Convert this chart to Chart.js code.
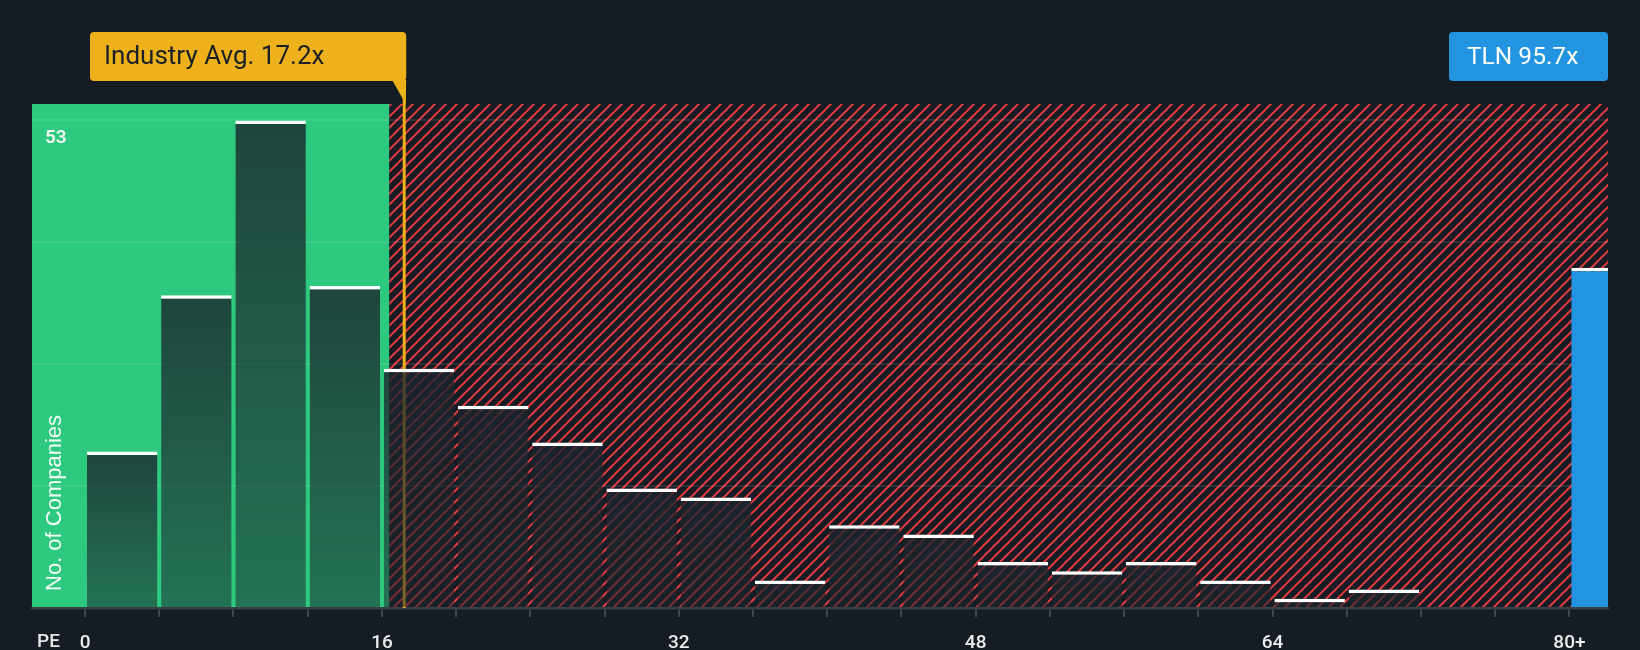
<!DOCTYPE html>
<html>
<head>
<meta charset="utf-8">
<script src="https://cdn.jsdelivr.net/npm/chart.js@4"></script>
<style>
  html, body { margin: 0; padding: 0; background: #161c24; }
  #wrap { width: 1640px; height: 650px; position: relative; }
</style>
</head>
<body>
<div id="wrap"><canvas id="peChart"></canvas></div>
<script>
// PE buckets (start of each 4x bucket) and number of peers in each
const binWidth = 4;
const binStarts = [0, 4, 8, 12, 16, 20, 24, 28, 32, 36, 40, 44, 48, 52, 56, 60, 64, 68, 72, 76];
const peerCounts = [17, 34, 53, 35, 26, 22, 18, 13, 12, 3, 9, 8, 5, 4, 5, 3, 1, 2, 0, 0];

// the company itself, shown in the 80+ bucket
const companyName = 'TLN';
const companyPE = 95.7;
const companyBin = 80;
const companyCount = 37;

const industryAvg = 17.2;
const fairLimit = 16.4; // green zone ends here

const xTicks = [0, 4, 8, 12, 16, 20, 24, 28, 32, 36, 40, 44, 48, 52, 56, 60, 64, 68, 72, 76, 80];
const xTickLabels = { 0: '0', 16: '16', 32: '32', 48: '48', 64: '64', 80: '80+' };
const yTicks = [0, 13.25, 26.5, 39.75, 53];
const yTickLabels = { 53: '53' };

Chart.defaults.font.family = "Roboto, 'Open Sans', sans-serif";

function makeHatch(ctx) {
  const s = 11;
  const c = document.createElement('canvas');
  c.width = s; c.height = s;
  const g = c.getContext('2d');
  g.fillStyle = '#161c24';
  g.fillRect(0, 0, s, s);
  g.strokeStyle = '#e03c40';
  g.lineWidth = 2;
  g.beginPath();
  g.moveTo(-1, s + 1); g.lineTo(s + 1, -1);
  g.moveTo(-s / 2 - 1, s / 2 + 1); g.lineTo(s / 2 + 1, -s / 2 - 1);
  g.moveTo(s / 2 - 1, s * 1.5 + 1); g.lineTo(s * 1.5 + 1, s / 2 - 1);
  g.stroke();
  return ctx.createPattern(c, 'repeat');
}

function barFill(context) {
  const chart = context.chart;
  const a = chart.chartArea;
  if (!a || !context.parsed) return 'rgba(27,36,45,0.7)';
  const top = chart.scales.y.getPixelForValue(context.parsed.y);
  if (a.bottom - top < 1) return 'rgba(27,36,45,0.7)';
  const g = chart.ctx.createLinearGradient(0, top, 0, a.bottom);
  g.addColorStop(0, 'rgba(27,36,45,0.8)');
  g.addColorStop(1, 'rgba(27,36,45,0.52)');
  return g;
}

function box(ctx, x, y, w, h, r) {
  ctx.beginPath();
  ctx.moveTo(x + r, y);
  ctx.lineTo(x + w - r, y);
  ctx.quadraticCurveTo(x + w, y, x + w, y + r);
  ctx.lineTo(x + w, y + h - r);
  ctx.quadraticCurveTo(x + w, y + h, x + w - r, y + h);
  ctx.lineTo(x + r, y + h);
  ctx.quadraticCurveTo(x, y + h, x, y + h - r);
  ctx.lineTo(x, y + r);
  ctx.quadraticCurveTo(x, y, x + r, y);
  ctx.closePath();
}

// green "fair" zone and red hatched zone behind everything
const zones = {
  id: 'zones',
  beforeDraw(chart) {
    const { ctx, chartArea: a, scales: { x } } = chart;
    const split = x.getPixelForValue(fairLimit);
    ctx.save();
    ctx.fillStyle = '#2dc97e';
    ctx.fillRect(a.left, a.top, split - a.left, a.bottom - a.top);
    ctx.fillStyle = makeHatch(ctx);
    ctx.fillRect(split, a.top, a.right - split, a.bottom - a.top);
    ctx.restore();
  }
};

// industry average marker + callouts
const marks = {
  id: 'marks',
  beforeDatasetsDraw(chart) {
    const { ctx, chartArea: a, scales: { x } } = chart;
    const px = x.getPixelForValue(industryAvg);
    const top = 32, h = 49;
    ctx.save();
    ctx.fillStyle = '#ecb11b';
    ctx.fillRect(px - 1.5, top + h, 3, a.bottom - top - h);
    box(ctx, 90, top, px + 2 - 90, h, 4);
    ctx.fill();
    ctx.beginPath();
    ctx.moveTo(px - 12, top + h - 1);
    ctx.lineTo(px + 2, top + h - 1);
    ctx.lineTo(px + 1.5, a.top);
    ctx.closePath();
    ctx.fill();
    ctx.fillStyle = '#1b1f27';
    ctx.font = '400 26px Roboto';
    ctx.textBaseline = 'middle';
    ctx.fillText('Industry Avg. ' + industryAvg + 'x', 104, top + h / 2 + 1);

    const bx = a.right - 159;
    ctx.fillStyle = '#2394e0';
    box(ctx, bx, top, a.right - bx, h, 4);
    ctx.fill();
    ctx.fillStyle = '#ffffff';
    ctx.font = '400 24.5px Roboto';
    ctx.fillText(companyName + ' ' + companyPE + 'x', bx + 18, top + h / 2 + 1);
    ctx.restore();
  },
  afterDraw(chart) {
    const { ctx, chartArea: a } = chart;
    ctx.save();
    ctx.fillStyle = 'rgba(255,255,255,0.95)';
    ctx.font = '22px "Liberation Sans", Arial, sans-serif';
    ctx.textBaseline = 'middle';
    ctx.translate(55, 591);
    ctx.rotate(-Math.PI / 2);
    ctx.fillText('No. of Companies', 0, 0);
    ctx.restore();

    ctx.save();
    ctx.fillStyle = '#e6e6e6';
    ctx.font = '500 19px Roboto';
    ctx.textBaseline = 'middle';
    ctx.fillText('PE', 37, a.bottom + 34);
    ctx.restore();
  }
};

const ctx = document.getElementById('peChart').getContext('2d');
new Chart(ctx, {
  type: 'bar',
  data: {
    datasets: [
      {
        label: 'Peers',
        data: binStarts.map((b, i) => ({ x: b + binWidth / 2, y: peerCounts[i] })),
        backgroundColor: barFill,
        borderColor: '#ffffff',
        borderWidth: { top: 3.5, right: 0, bottom: 0, left: 0 },
        borderSkipped: false,
        grouped: false,
        barPercentage: 0.95,
        categoryPercentage: 1
      },
      {
        label: companyName,
        data: [{ x: companyBin + binWidth / 2, y: companyCount }],
        backgroundColor: '#2394e0',
        borderColor: '#ffffff',
        borderWidth: { top: 3.5, right: 0, bottom: 0, left: 0 },
        borderSkipped: false,
        grouped: false,
        barPercentage: 0.95,
        categoryPercentage: 1
      }
    ]
  },
  options: {
    responsive: true,
    maintainAspectRatio: false,
    animation: false,
    layout: { padding: { left: 32, right: 32, top: 104, bottom: 0 } },
    plugins: { legend: { display: false }, tooltip: { enabled: false } },
    scales: {
      x: {
        type: 'linear',
        min: -2.86,
        max: 82.08,
        offset: false,
        afterBuildTicks: s => { s.ticks = xTicks.map(v => ({ value: v })); },
        afterFit: s => { s.height = 42; },
        grid: { offset: false, drawOnChartArea: false, drawTicks: true, tickLength: 9, color: '#41464e', lineWidth: 2 },
        border: { display: true, color: '#3a3f47', width: 2.5 },
        ticks: {
          padding: 15,
          autoSkip: false,
          maxRotation: 0,
          color: '#ececec',
          font: { size: 19, weight: '500' },
          callback: v => xTickLabels[v] ?? ''
        }
      },
      y: {
        min: 0,
        max: 54.79,
        afterBuildTicks: s => { s.ticks = yTicks.map(v => ({ value: v })); },
        afterFit: s => { s.width = 0; },
        grid: {
          drawTicks: false,
          lineWidth: 2,
          color: c => (c.tick && c.tick.value === 0) ? 'rgba(0,0,0,0)' : 'rgba(255,255,255,0.09)'
        },
        border: { display: false },
        ticks: {
          mirror: true,
          padding: 13,
          labelOffset: 18,
          color: '#f4f4f4',
          font: { size: 19, weight: '600' },
          callback: v => yTickLabels[v] ?? ''
        }
      }
    }
  },
  plugins: [zones, marks]
});
</script>
</body>
</html>
